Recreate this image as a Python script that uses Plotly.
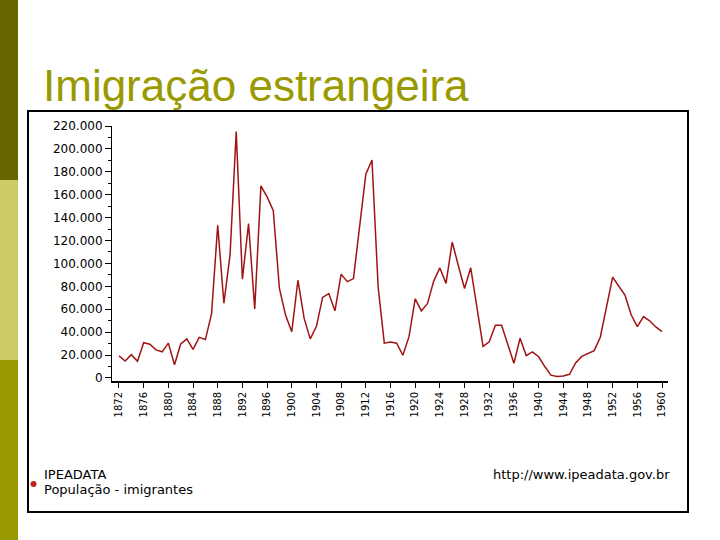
import plotly.graph_objects as go

# IPEADATA - População - imigrantes (Brasil), 1872-1960
years = list(range(1872, 1961))
immigrants = [
    19219, 14742, 20332, 14590, 30747, 29468, 24456, 22788, 30355, 11548,
    29589, 34015, 24890, 35440, 33486, 55965, 133253, 65165, 107474, 215239,
    86203, 134805, 60182, 167618, 158132, 146362, 78109, 54629, 40300, 85306,
    52204, 34062, 45026, 70295, 73672, 58552, 90536, 84090, 86751, 133575,
    177887, 190333, 79232, 30333, 31245, 30277, 19793, 36027, 69042, 58476,
    65007, 84549, 96052, 82547, 118686, 97974, 78128, 96186, 62610, 27465,
    31494, 46081, 46027, 29585, 12773, 34677, 19388, 22668, 18449, 9938,
    2425, 1308, 1593, 3168, 13039, 18753, 21568, 23844, 35492, 62594,
    88000, 80070, 72248, 55166, 44806, 53613, 49839, 44520, 40507,
]
title_text = "Imigração estrangeira"
source_text = "IPEADATA"
series_text = "População - imigrantes"
url_text = "http://www.ipeadata.gov.br"

# plot area in pixels (720x540 page)
L, R, T, B = 112, 668, 126, 381


def px(x):
    return (x - L) / (R - L)


def py(y):
    return (B - y) / (B - T)


fig = go.Figure()
fig.add_trace(go.Scatter(
    x=years, y=immigrants, mode="lines",
    line=dict(color="#a01414", width=1.5),
    hoverinfo="x+y", showlegend=False,
))

shapes = [
    # slide side bar
    dict(type="rect", xref="paper", yref="paper", x0=px(0), x1=px(18), y0=py(0), y1=py(180),
         fillcolor="#666600", line_width=0, layer="below"),
    dict(type="rect", xref="paper", yref="paper", x0=px(0), x1=px(18), y0=py(180), y1=py(360),
         fillcolor="#cccc66", line_width=0, layer="below"),
    dict(type="rect", xref="paper", yref="paper", x0=px(0), x1=px(18), y0=py(360), y1=py(540),
         fillcolor="#999900", line_width=0, layer="below"),
    # chart frame
    dict(type="rect", xref="paper", yref="paper", x0=px(28), x1=px(688), y0=py(111), y1=py(512),
         line=dict(color="black", width=2), fillcolor="rgba(0,0,0,0)", layer="below"),
    # legend dot
    dict(type="circle", xref="paper", yref="paper", x0=px(30.5), x1=px(36.5), y0=py(481), y1=py(487),
         fillcolor="#c81e1e", line_width=0),
]

small = dict(family="DejaVu Sans", size=13, color="black")
annotations = [
    dict(text=title_text, x=px(41), y=py(112), xref="paper", yref="paper",
         xanchor="left", yanchor="bottom", showarrow=False,
         font=dict(family="Liberation Sans, Arial", size=44, color="#999900")),
    dict(text=source_text, x=px(42), y=py(474), xref="paper", yref="paper",
         xanchor="left", yanchor="middle", showarrow=False, font=small),
    dict(text=series_text, x=px(42), y=py(489), xref="paper", yref="paper",
         xanchor="left", yanchor="middle", showarrow=False, font=small),
    dict(text=url_text, x=px(672), y=py(474), xref="paper", yref="paper",
         xanchor="right", yanchor="middle", showarrow=False, font=small),
]

fig.update_layout(
    width=720, height=540,
    margin=dict(l=L, r=720 - R, t=T, b=540 - B),
    paper_bgcolor="white", plot_bgcolor="white",
    separators=",.",
    font=dict(family="Liberation Sans, Arial", color="black"),
    shapes=shapes, annotations=annotations,
    xaxis=dict(
        range=[1870.87, 1960.97], tick0=1872, dtick=4, tickangle=-90,
        showgrid=False, zeroline=False,
        showline=True, linecolor="black", linewidth=2,
        ticks="outside", ticklen=5, tickcolor="black",
        tickfont=dict(family="DejaVu Sans", size=10, color="black"),
    ),
    yaxis=dict(
        range=[-2700, 220000], tick0=0, dtick=20000, tickformat=",d",
        showgrid=False, zeroline=False,
        showline=True, linecolor="black", linewidth=1,
        ticks="outside", ticklen=6, tickcolor="black",
        minor=dict(dtick=10000, ticks="outside", ticklen=3, tickcolor="black"),
        tickfont=dict(family="DejaVu Sans", size=12, color="black"),
    ),
)

# page body has a default 8px margin; drop it so the figure fills the window
fig.write_html(
    "out.html",
    config={"displayModeBar": False},
    post_script="document.body.style.margin='0';",
)
